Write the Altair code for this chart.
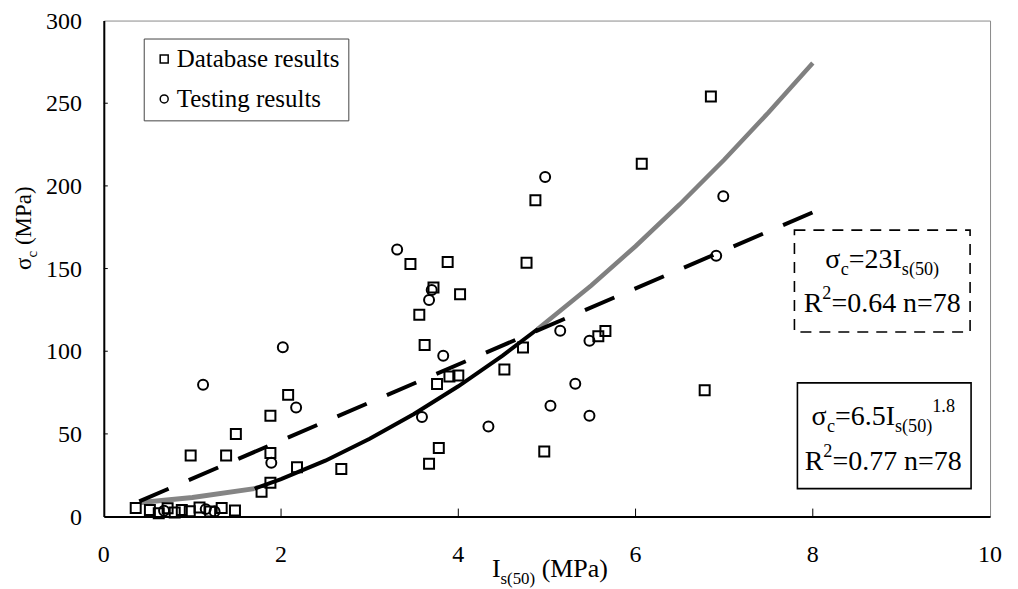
import altair as alt
import pandas as pd

FONT = "Liberation Serif, Times New Roman, serif"

# ---------------- data ----------------
DB_X = [0.36, 0.52, 0.62, 0.72, 0.80, 0.88, 0.97, 1.08, 1.20, 1.33, 1.48,
        0.98, 1.38, 1.49, 1.78, 1.88, 1.88, 1.88, 2.08, 2.18, 2.68,
        3.46, 3.56, 3.62, 3.67, 3.72, 3.76, 3.78, 3.88, 3.90, 4.00, 4.02,
        4.52, 4.73, 4.77, 4.87, 4.97, 5.58, 5.66, 6.07, 6.78, 6.85]
DB_Y = [5.2, 4.0, 2.0, 5.0, 2.5, 4.0, 3.2, 5.5, 3.0, 5.2, 3.6,
        37.0, 37.0, 50.0, 15.0, 20.5, 38.5, 61.0, 73.6, 29.8, 28.8,
        152.7, 122.0, 103.8, 32.0, 138.5, 80.2, 41.5, 154.0, 84.7, 85.3, 134.4,
        89.0, 102.2, 153.5, 191.3, 39.4, 109.0, 112.3, 213.4, 76.4, 254.0]

TS_X = [1.12, 1.89, 2.02, 2.17, 3.31, 3.59, 3.67, 3.70, 3.83, 4.34, 4.98,
        5.04, 5.15, 5.32, 5.48, 5.48, 6.91, 6.99, 0.68, 1.15, 1.25]
TS_Y = [79.7, 32.6, 102.4, 66.0, 161.5, 60.2, 131.0, 137.0, 97.2, 54.5, 205.4,
        67.0, 112.4, 80.3, 106.4, 61.0, 157.7, 193.7, 3.5, 4.5, 3.0]

# power fit sigma_c = 6.5 Is^1.8
PW_X = [1.7, 2.0, 2.5, 3.0, 3.5, 4.0, 4.5, 4.9, 5.5, 6.0, 6.5, 7.0, 7.5, 8.0]
PW_Y = [16.9, 22.6, 33.8, 47.0, 62.0, 78.8, 97.4, 113.6, 139.8, 163.5, 188.9, 215.8, 244.4, 274.4]
PW_SPLIT = 4.9
LOW_X = [0.42, 1.0, 1.7]
LOW_Y = [8.5, 11.5, 16.9]

# linear fit sigma_c = 23 Is
LIN_X = [0.4, 8.0]
LIN_Y = [9.2, 184.0]

X_TICKS = [0, 2, 4, 6, 8, 10]
Y_TICKS = [0, 50, 100, 150, 200, 250, 300]
SERIES = ["Database results", "Testing results"]

# ---------------- geometry helpers ----------------
PW, PH = 888, 497          # plot area in px
XMAX, YMAX = 10.0, 300.0
OX, OY = 104, 20           # page position of plot origin
TICK_F = 24


def to_x(page_x):
    return (page_x - OX) / PW * XMAX


def to_y(page_y):
    return (PH - (page_y - OY)) / PH * YMAX


ADV = {'σ': 0.55, 'c': 0.444, '=': 0.564, 'I': 0.333, 's': 0.389, '(': 0.333,
       ')': 0.333, '.': 0.25, ' ': 0.25, 'R': 0.667, 'n': 0.5, 'M': 0.889,
       'P': 0.556, 'a': 0.444}


def adv(t):
    return sum(ADV.get(ch, 0.5) for ch in t)


def runs(start_or_center, baseline, parts, F, center=True):
    small = 0.65 * F
    total = 0
    for t, k in parts:
        total += adv(t) * (F if k == 'n' else small)
    x = start_or_center - total / 2 if center else start_or_center
    rows = []
    for t, k in parts:
        fs = F if k == 'n' else small
        off = 0 if k == 'n' else (0.25 * F if k == 'sub' else -0.46 * F)
        lead = len(t) - len(t.lstrip(' '))
        x += adv(' ' * lead) * fs
        t2 = t.lstrip(' ')
        rows.append(dict(px=to_x(x), py=to_y(baseline + off), txt=t2, fs=fs))
        x += adv(t2) * fs
    return rows


x_scale = alt.Scale(domain=[0, XMAX], nice=False, zero=True)
y_scale = alt.Scale(domain=[0, YMAX], nice=False, zero=True)
x_axis = alt.Axis(values=X_TICKS, title=None, grid=False, ticks=False, tickSize=0, labels=False,
                  domainColor='black', domainWidth=2)
y_axis = alt.Axis(values=Y_TICKS, title=None, grid=False, ticks=False, tickSize=0, labels=False,
                  domainColor='black', domainWidth=2)


def X(f):
    return alt.X(f, type='quantitative', scale=x_scale, axis=x_axis)


def Y(f):
    return alt.Y(f, type='quantitative', scale=y_scale, axis=y_axis)


# ---------------- tables ----------------
pts = pd.DataFrame({
    'x': DB_X + TS_X,
    'y': DB_Y + TS_Y,
    'kind': [SERIES[0]] * len(DB_X) + [SERIES[1]] * len(TS_X),
})
pw_black = pd.DataFrame({'x': [v for v in PW_X if v <= PW_SPLIT],
                         'y': [w for v, w in zip(PW_X, PW_Y) if v <= PW_SPLIT]})
pw_gray = pd.DataFrame({'x': [v for v in PW_X if v >= PW_SPLIT],
                        'y': [w for v, w in zip(PW_X, PW_Y) if v >= PW_SPLIT]})
low = pd.DataFrame({'x': LOW_X, 'y': LOW_Y})
lin = pd.DataFrame({'x': LIN_X, 'y': LIN_Y})

xt = pd.DataFrame({'x': X_TICKS[1:-1], 'y': [0] * 4, 'y2': [8 / PH * YMAX] * 4})
yt = pd.DataFrame({'y': Y_TICKS[1:-1], 'x': [0] * 5, 'x2': [4 / PW * XMAX] * 5})

xlab = pd.DataFrame({'x': X_TICKS, 'y': [0] * len(X_TICKS), 'lab': [str(v) for v in X_TICKS]})
ylab = pd.DataFrame({'y': Y_TICKS, 'x': [0] * len(Y_TICKS), 'lab': [str(v) for v in Y_TICKS]})

boxes_dash = pd.DataFrame({'x': [to_x(796)], 'x2': [to_x(972)], 'y': [to_y(230)], 'y2': [to_y(332)]})
boxes_solid = pd.DataFrame({'x': [to_x(799)], 'x2': [to_x(973)], 'y': [to_y(383)], 'y2': [to_y(489)]})

ann = []
ann += runs(884, 268, [('σ', 'n'), ('c', 'sub'), ('=23I', 'n'), ('s(50)', 'sub')], 28)
ann += runs(884, 312, [('R', 'n'), ('2', 'sup'), ('=0.64 n=78', 'n')], 28)
ann += runs(885, 425, [('σ', 'n'), ('c', 'sub'), ('=6.5I', 'n'), ('s(50)', 'sub'), ('1.8', 'sup')], 28)
ann += runs(885, 470, [('R', 'n'), ('2', 'sup'), ('=0.77 n=78', 'n')], 28)
ann += runs(551, 578, [('I', 'n'), ('s(50)', 'sub'), (' (MPa)', 'n')], 26)
ann_df = pd.DataFrame(ann)

# rotated y title: runs go upward from y=270, baseline at x=31
YT_F = 23
ytitle = []
cur = 270
for t, k in [('σ', 'n'), ('c', 'sub'), (' (MPa)', 'n')]:
    fs = YT_F if k == 'n' else 0.65 * YT_F
    off = 0 if k == 'n' else 0.25 * YT_F
    lead = len(t) - len(t.lstrip(' '))
    cur -= adv(' ' * lead) * fs
    t2 = t.lstrip(' ')
    ytitle.append(dict(px=to_x(31 + off), py=to_y(cur), txt=t2, fs=fs))
    cur -= adv(t2) * fs
ytitle_df = pd.DataFrame(ytitle)

# ---------------- layers ----------------
low_l = alt.Chart(low).mark_line(color='#858585', strokeWidth=5).encode(x=X('x'), y=Y('y'))
gray_l = alt.Chart(pw_gray).mark_line(color='#808080', strokeWidth=4.5).encode(x=X('x'), y=Y('y'))
black_l = alt.Chart(pw_black).mark_line(color='black', strokeWidth=4).encode(x=X('x'), y=Y('y'))
lin_l = alt.Chart(lin).mark_line(color='black', strokeWidth=4, strokeDash=[32, 22]).encode(x=X('x'), y=Y('y'))

xt_l = alt.Chart(xt).mark_rule(color='black', strokeWidth=1).encode(x=X('x'), y=Y('y'), y2='y2')
yt_l = alt.Chart(yt).mark_rule(color='black', strokeWidth=1).encode(y=Y('y'), x=X('x'), x2='x2')

xlab_l = alt.Chart(xlab).mark_text(font=FONT, fontSize=TICK_F, color='black', align='center',
                                   baseline='alphabetic', dy=46).encode(x=X('x'), y=Y('y'), text='lab:N')
ylab_l = alt.Chart(ylab).mark_text(font=FONT, fontSize=TICK_F, color='black', align='right',
                                   baseline='alphabetic', dx=-22, dy=8).encode(x=X('x'), y=Y('y'), text='lab:N')

pts_l = alt.Chart(pts).mark_point(filled=False, color='black', strokeWidth=2, size=100, opacity=1).encode(
    x=X('x'), y=Y('y'),
    shape=alt.Shape('kind:N', scale=alt.Scale(domain=SERIES, range=['square', 'circle']),
                    legend=alt.Legend(title=None, orient='none', legendX=40, legendY=18,
                                      strokeColor='#444', fillColor='white', padding=8,
                                      labelFont=FONT, labelFontSize=25, labelColor='black',
                                      labelLimit=400,
                                      symbolSize=64, symbolStrokeWidth=1.5, symbolStrokeColor='black',
                                      symbolFillColor='white',
                                      labelOffset=0, rowPadding=14)),
)

dash_box = alt.Chart(boxes_dash).mark_rect(fill='white', stroke='black', strokeWidth=1.6,
                                           strokeDash=[11, 8]).encode(x=X('x'), x2='x2', y=Y('y'), y2='y2')
solid_box = alt.Chart(boxes_solid).mark_rect(fill='white', stroke='black', strokeWidth=1.6).encode(
    x=X('x'), x2='x2', y=Y('y'), y2='y2')

ann_l = alt.Chart(ann_df).mark_text(align='left', baseline='alphabetic', font=FONT, color='black').encode(
    x=X('px'), y=Y('py'), text='txt:N', size=alt.Size('fs:Q', scale=None))
ytitle_l = alt.Chart(ytitle_df).mark_text(align='left', baseline='alphabetic', font=FONT, color='black',
                                          angle=270).encode(
    x=X('px'), y=Y('py'), text='txt:N', size=alt.Size('fs:Q', scale=None))

chart = alt.layer(
    low_l, gray_l, black_l, lin_l, xt_l, yt_l, xlab_l, ylab_l, pts_l, dash_box, solid_box, ann_l, ytitle_l
).properties(
    width=PW, height=PH,
    autosize=alt.AutoSizeParams(type='none'),
    padding={'left': OX - 8, 'top': OY - 8, 'right': 20, 'bottom': 72},
    background='white',
).configure(font=FONT).configure_legend(labelFont=FONT).configure_view(
    stroke='#8a8a8a', strokeWidth=1)

chart.save("out.html", embed_options={"renderer": "svg", "actions": False})
